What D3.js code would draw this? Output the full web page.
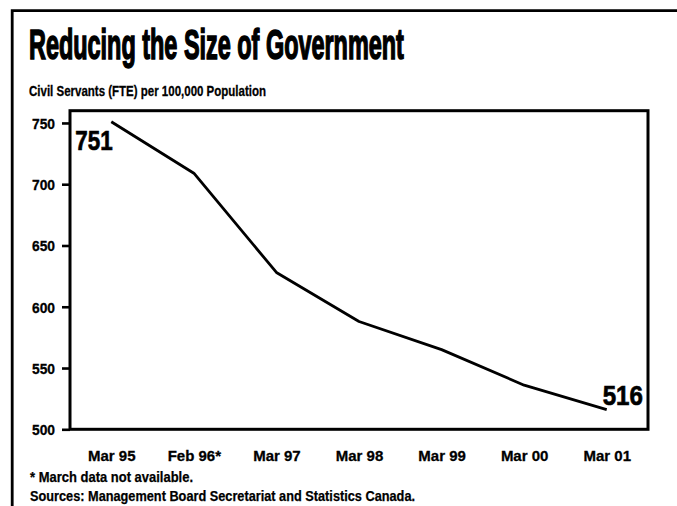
<!DOCTYPE html>
<html>
<head>
<meta charset="utf-8">
<script src="https://cdn.jsdelivr.net/npm/d3@7"></script>
<style>
  html, body { margin: 0; padding: 0; background: #fff; }
  svg text { font-family: "Liberation Sans Narrow", "Liberation Sans", Arial, sans-serif; font-weight: bold; fill: #000; }
</style>
</head>
<body>
<svg id="chart" width="677" height="506"></svg>
<script>
// Civil servants (FTE) per 100,000 population
const periods = ["Mar 95", "Feb 96*", "Mar 97", "Mar 98", "Mar 99", "Mar 00", "Mar 01"];
const servants = [751, 709, 628, 588, 565, 536, 516];
const yTicks = [500, 550, 600, 650, 700, 750];
const titleText = "Reducing the Size of Government";
const subtitleText = "Civil Servants (FTE) per 100,000 Population";
const footnoteText = "* March data not available.";
const sourceText = "Sources:  Management Board Secretariat and Statistics Canada.";

const svg = d3.select("#chart");

// Squeeze a text to a share of its natural width (condensed look)
function condense(sel, k) {
  sel.each(function () {
    const w = this.getComputedTextLength();
    d3.select(this).attr("textLength", w * k).attr("lengthAdjust", "spacingAndGlyphs");
  });
}

// Outer panel border (left and top rules)
svg.append("path")
  .attr("d", "M12.2,506V10.7H677")
  .attr("fill", "none")
  .attr("stroke", "#000")
  .attr("stroke-width", 2.8);

// Title, compressed horizontally into a condensed headline
const titleG = svg.append("g");
const title = titleG.append("text")
  .attr("x", 0).attr("y", 0)
  .attr("font-size", 42)
  .attr("stroke", "#000").attr("stroke-width", 1.6)
  .text(titleText);
const titleW = title.node().getComputedTextLength();
titleG.attr("transform", `translate(29,59) scale(${375 / titleW},1)`);

svg.append("text")
  .attr("x", 29).attr("y", 96)
  .attr("font-size", 15)
  .attr("stroke", "#000").attr("stroke-width", 0.3)
  .attr("textLength", 237).attr("lengthAdjust", "spacingAndGlyphs")
  .text(subtitleText);

// Scales
const x = d3.scalePoint().domain(periods).range([70, 648]).padding(0.5);
const y = d3.scaleLinear().domain([500, 760]).range([429.3, 110.7]);

const [x0, x1] = x.range();
const [yb, yt] = y.range();

// Y axis ticks and labels
const yAxis = svg.append("g")
  .attr("transform", `translate(${x0},0)`)
  .call(d3.axisLeft(y).tickValues(yTicks).tickSize(8).tickPadding(7).tickFormat(d3.format("d")));
yAxis.select(".domain").remove();
yAxis.selectAll(".tick line").attr("stroke", "#000").attr("stroke-width", 2.6);
yAxis.selectAll(".tick text")
  .attr("font-size", 15)
  .attr("font-family", null)
  .attr("stroke", "#000").attr("stroke-width", 0.3)
  .attr("dy", "0.36em");
condense(yAxis.selectAll(".tick text"), 0.92);

// X axis labels (no tick marks)
const xAxis = svg.append("g")
  .attr("transform", `translate(0,${yb})`)
  .call(d3.axisBottom(x).tickSize(0).tickPadding(0));
xAxis.select(".domain").remove();
xAxis.selectAll(".tick text")
  .attr("font-size", 15)
  .attr("font-family", null)
  .attr("stroke", "#000").attr("stroke-width", 0.3)
  .attr("dy", null)
  .attr("y", 32);

// Plot frame
svg.append("rect")
  .attr("x", x0).attr("y", yt)
  .attr("width", x1 - x0).attr("height", yb - yt)
  .attr("fill", "none")
  .attr("stroke", "#000")
  .attr("stroke-width", 3);

// Series line
const line = d3.line()
  .x((d, i) => x(periods[i]))
  .y(d => y(d));

svg.append("path")
  .datum(servants)
  .attr("d", line)
  .attr("fill", "none")
  .attr("stroke", "#000")
  .attr("stroke-width", 2.8)
  .attr("stroke-linejoin", "round");

// End-point value labels
const n = servants.length;
const firstLabel = svg.append("text")
  .attr("x", x(periods[0]) - 36)
  .attr("y", y(servants[0]) + 28)
  .attr("font-size", 28)
  .attr("stroke", "#000").attr("stroke-width", 0.7)
  .text(servants[0]);

const lastLabel = svg.append("text")
  .attr("x", x(periods[n - 1]) - 4)
  .attr("y", y(servants[n - 1]) - 5)
  .attr("font-size", 28)
  .attr("stroke", "#000").attr("stroke-width", 0.7)
  .text(servants[n - 1]);

condense(firstLabel, 0.8);
condense(lastLabel, 0.86);

// Notes
svg.append("text")
  .attr("x", 30).attr("y", 482)
  .attr("font-size", 14)
  .attr("stroke", "#000").attr("stroke-width", 0.25)
  .attr("textLength", 163).attr("lengthAdjust", "spacingAndGlyphs")
  .text(footnoteText);

svg.append("text")
  .attr("x", 30).attr("y", 501)
  .attr("font-size", 14)
  .attr("stroke", "#000").attr("stroke-width", 0.25)
  .attr("textLength", 385).attr("lengthAdjust", "spacingAndGlyphs")
  .text(sourceText);
</script>
</body>
</html>
